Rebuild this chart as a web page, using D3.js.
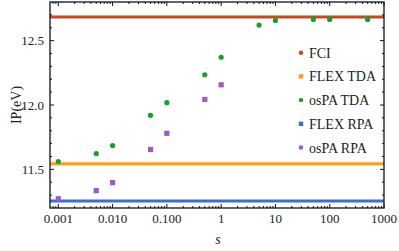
<!DOCTYPE html>
<html>
<head>
<meta charset="utf-8">
<script src="https://cdn.jsdelivr.net/npm/d3@7"></script>
<style>
  body { margin: 0; background: #fff; }
</style>
</head>
<body>
<div id="chart"></div>
<script>
const width = 399;
const height = 251;
const margin = { top: 2, right: 15, bottom: 43, left: 50 };

// reference lines
const fci = 12.683;
const flexTDA = 11.543;
const flexRPA = 11.254;

// osPA points (s, IP)
const sTDA = [0.001, 0.005, 0.01, 0.05, 0.1, 0.5, 1, 5, 10, 50, 100, 500];
const ipTDA = [11.561, 11.623, 11.685, 11.92, 12.018, 12.235, 12.371, 12.621, 12.657, 12.665, 12.665, 12.665];
const sRPA = [0.001, 0.005, 0.01, 0.05, 0.1, 0.5, 1];
const ipRPA = [11.272, 11.335, 11.397, 11.654, 11.78, 12.043, 12.157];

const xTicks = [0.001, 0.01, 0.1, 1, 10, 100, 1000];
const xTickLabels = ['0.001', '0.010', '0.100', '1', '10', '100', '1000'];
const yTicks = [11.5, 12.0, 12.5];
const yTickLabels = ['11.5', '12.0', '12.5'];

const legendNames = ['FCI', 'FLEX TDA', 'osPA TDA', 'FLEX RPA', 'osPA RPA'];
const colors = ['#d0461c', '#fb9d1a', '#15a02a', '#3c6fd6', '#9a5ac8'];

const font = "'Liberation Serif', 'DejaVu Serif', serif";

const svg = d3.select('#chart').append('svg')
  .attr('width', width).attr('height', height)
  .style('font-family', font);

const x = d3.scaleLog()
  .domain([Math.pow(10, -3.153), 1000])
  .range([margin.left, width - margin.right]);
const y = d3.scaleLinear()
  .domain([11.2, 12.8])
  .range([height - margin.bottom, margin.top]);

const x0 = margin.left, x1 = width - margin.right;
const y0 = height - margin.bottom, y1 = margin.top;

// horizontal lines
const hl = [[fci, colors[0]], [flexTDA, colors[1]], [flexRPA, colors[3]]];
hl.forEach(([v, c]) => {
  svg.append('line')
    .attr('x1', x0).attr('x2', x1)
    .attr('y1', y(v)).attr('y2', y(v))
    .attr('stroke', c).attr('stroke-opacity', 0.35).attr('stroke-width', 4);
  svg.append('line')
    .attr('x1', x0).attr('x2', x1)
    .attr('y1', y(v)).attr('y2', y(v))
    .attr('stroke', c).attr('stroke-width', 2.6);
});

// points
const tda = sTDA.map((s, i) => ({ s, v: ipTDA[i] }));
const rpa = sRPA.map((s, i) => ({ s, v: ipRPA[i] }));

svg.selectAll('.tda').data(tda).join('circle')
  .attr('class', 'tda')
  .attr('cx', d => x(d.s)).attr('cy', d => y(d.v))
  .attr('r', 2.6).attr('fill', colors[2]);

svg.selectAll('.rpa').data(rpa).join('rect')
  .attr('class', 'rpa')
  .attr('x', d => x(d.s) - 2.6).attr('y', d => y(d.v) - 2.6)
  .attr('width', 5.2).attr('height', 5.2).attr('fill', colors[4]);

// frame
svg.append('rect')
  .attr('x', x0).attr('y', y1)
  .attr('width', x1 - x0).attr('height', y0 - y1)
  .attr('fill', 'none').attr('stroke', '#111').attr('stroke-width', 1.3);

// x ticks (inward, bottom and top)
const minorX = [];
for (let e = -4; e < 3; e++) {
  for (let k = 2; k <= 9; k++) {
    const v = k * Math.pow(10, e);
    if (v >= x.domain()[0] && v <= 1000) minorX.push(v);
  }
}
const tickG = svg.append('g').attr('stroke', '#111').attr('stroke-width', 1);
xTicks.forEach(v => {
  tickG.append('line').attr('x1', x(v)).attr('x2', x(v)).attr('y1', y0).attr('y2', y0 - 4);
  tickG.append('line').attr('x1', x(v)).attr('x2', x(v)).attr('y1', y1).attr('y2', y1 + 4);
});
minorX.forEach(v => {
  tickG.append('line').attr('x1', x(v)).attr('x2', x(v)).attr('y1', y0).attr('y2', y0 - 2);
  tickG.append('line').attr('x1', x(v)).attr('x2', x(v)).attr('y1', y1).attr('y2', y1 + 2);
});

// y ticks (inward, left and right)
const minorY = d3.range(11.3, 12.8, 0.1).filter(v => !yTicks.some(t => Math.abs(t - v) < 1e-6));
yTicks.forEach(v => {
  tickG.append('line').attr('x1', x0).attr('x2', x0 + 4).attr('y1', y(v)).attr('y2', y(v));
  tickG.append('line').attr('x1', x1).attr('x2', x1 - 4).attr('y1', y(v)).attr('y2', y(v));
});
minorY.forEach(v => {
  tickG.append('line').attr('x1', x0).attr('x2', x0 + 2).attr('y1', y(v)).attr('y2', y(v));
  tickG.append('line').attr('x1', x1).attr('x2', x1 - 2).attr('y1', y(v)).attr('y2', y(v));
});

// tick labels
svg.selectAll('.xl').data(xTicks).join('text')
  .attr('class', 'xl')
  .attr('x', d => x(d)).attr('y', y0 + 15)
  .attr('text-anchor', 'middle').attr('font-size', 13).attr('fill', '#222')
  .text((d, i) => xTickLabels[i]);

svg.selectAll('.yl').data(yTicks).join('text')
  .attr('class', 'yl')
  .attr('x', x0 - 6).attr('y', d => y(d) + 4.5)
  .attr('text-anchor', 'end').attr('font-size', 13).attr('fill', '#222')
  .text((d, i) => yTickLabels[i]);

// axis titles
svg.append('text')
  .attr('x', (x0 + x1) / 2 + 1).attr('y', 244)
  .attr('text-anchor', 'middle').attr('font-size', 14).attr('font-style', 'italic').attr('fill', '#222')
  .text('s');

svg.append('text')
  .attr('transform', `translate(21,${(y0 + y1) / 2}) rotate(-90)`)
  .attr('text-anchor', 'middle').attr('font-size', 14).attr('fill', '#222')
  .text('IP(eV)');

// legend
const lg = svg.append('g');
legendNames.forEach((name, i) => {
  const ly = 52.7 + i * 23.7;
  if (i === 1 || i === 3) {
    lg.append('rect').attr('x', 298.8).attr('y', ly - 2.2).attr('width', 4.4).attr('height', 4.4).attr('fill', colors[i]);
  } else {
    lg.append('circle').attr('cx', 301).attr('cy', ly).attr('r', 2.2).attr('fill', colors[i]);
  }
  lg.append('text').attr('x', 309).attr('y', ly + 5).attr('font-size', 14).attr('fill', '#222').text(name);
});
</script>
</body>
</html>
